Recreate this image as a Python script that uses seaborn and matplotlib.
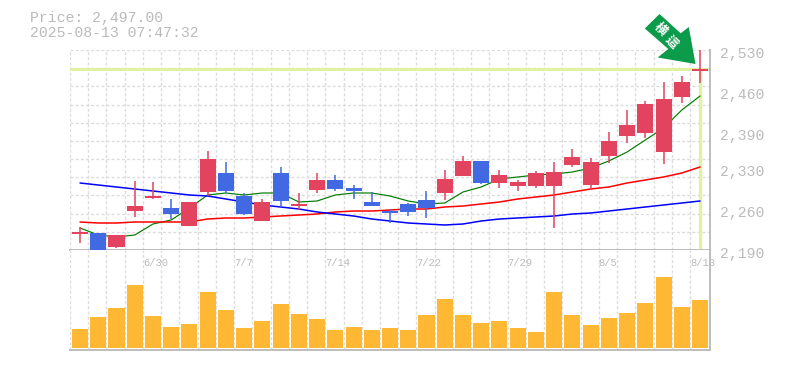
import numpy as np
import pandas as pd
import seaborn as sns
import matplotlib.pyplot as plt
from matplotlib.patches import Polygon

# Candle values
highs = [2229.1, 2218.9, 2215.5, 2307.3, 2305.6, 2276.7, 2271.6, 2358.3, 2339.6, 2286.9, 2276.7, 2331.1,
         2286.9, 2320.9, 2317.5, 2300.5, 2288.6, 2259.7, 2269.9, 2290.3, 2326.0, 2349.8, 2341.3, 2326.0,
         2309.0, 2324.3, 2339.6, 2361.7, 2346.4, 2390.6, 2428.0, 2443.3, 2475.6, 2485.8, 2530.0]
body_tops = [2220.6, 2218.9, 2215.5, 2264.8, 2281.8, 2261.4, 2271.6, 2344.7, 2320.9, 2281.8, 2271.6, 2320.9,
             2268.2, 2309.0, 2309.0, 2295.4, 2271.6, 2256.3, 2268.2, 2275.0, 2310.7, 2341.3, 2341.3, 2317.5,
             2305.6, 2320.9, 2322.6, 2348.1, 2339.6, 2375.3, 2402.5, 2438.2, 2446.7, 2475.6, 2497.7]
body_bottoms = [2217.2, 2188.3, 2195.1, 2256.3, 2278.4, 2251.2, 2230.8, 2288.6, 2290.3, 2251.2, 2239.3, 2273.3,
                2264.8, 2292.0, 2293.7, 2290.3, 2264.8, 2252.9, 2254.6, 2261.4, 2286.9, 2315.8, 2303.9, 2303.9,
                2298.8, 2298.8, 2298.8, 2334.5, 2300.5, 2349.8, 2383.8, 2388.9, 2356.6, 2450.1, 2494.3]
lows = [2201.9, 2188.3, 2193.4, 2246.1, 2276.7, 2242.7, 2230.8, 2281.8, 2286.9, 2249.5, 2239.3, 2263.1,
        2258.0, 2286.9, 2290.3, 2276.7, 2264.8, 2235.9, 2247.8, 2244.4, 2275.0, 2315.8, 2302.2, 2295.4,
        2290.3, 2295.4, 2227.4, 2331.1, 2292.0, 2337.9, 2371.9, 2380.4, 2336.2, 2439.9, 2473.9]
is_up = [1, 0, 1, 1, 1, 0, 1, 1, 0, 0, 1, 0, 1, 1, 0, 0, 0, 0, 0, 0, 1, 1, 0, 1, 1, 1, 1, 1, 1, 1, 1, 1, 1, 1, 1]

# Moving averages
ma_short = [2227.4, 2215.5, 2212.1, 2215.5, 2234.2, 2241.0, 2261.4, 2283.5, 2286.9, 2283.5, 2286.9, 2286.9,
            2271.6, 2273.3, 2283.5, 2286.9, 2286.9, 2281.8, 2273.3, 2268.2, 2269.9, 2288.6, 2297.1, 2310.7,
            2314.1, 2317.5, 2319.2, 2322.6, 2329.4, 2341.3, 2356.6, 2377.0, 2397.4, 2428.0, 2451.8]
ma_mid = [2237.6, 2235.9, 2235.9, 2237.6, 2237.6, 2237.6, 2237.6, 2242.7, 2244.4, 2244.4, 2246.1, 2247.8,
          2249.5, 2251.2, 2254.6, 2256.3, 2256.3, 2258.0, 2259.7, 2259.7, 2263.1, 2264.8, 2268.2, 2271.6,
          2276.7, 2280.1, 2283.5, 2288.6, 2293.7, 2297.1, 2303.9, 2309.0, 2314.1, 2320.9, 2331.1]
ma_long = [2303.9, 2300.5, 2297.1, 2293.7, 2290.3, 2286.9, 2283.5, 2281.8, 2276.7, 2271.6, 2266.5, 2263.1,
           2259.7, 2254.6, 2251.2, 2247.8, 2242.7, 2239.3, 2235.9, 2234.2, 2232.5, 2234.2, 2239.3, 2242.7,
           2244.4, 2246.1, 2247.8, 2251.2, 2252.9, 2256.3, 2259.7, 2263.1, 2266.5, 2269.9, 2273.3]

volumes = [19, 31, 40, 63, 32, 21, 24, 56, 38, 20, 27, 44, 34, 29, 18, 21, 18, 20, 18, 33, 49, 33, 25, 27, 20, 16,
           56, 33, 23, 30, 35, 45, 71, 41, 48]

price_labels = [2530, 2460, 2390, 2330, 2260, 2190]
date_labels = ['6/30', '7/7', '7/14', '7/22', '7/29', '8/5', '8/13']
date_slots = [4, 9, 14, 19, 24, 29, 34]
last_price = 2497

W, H = 785, 370
RED, BLUE = '#e2435f', '#4169e1'
GRID, EDGE, TEXT = '#dddddd', '#bdbdbd', '#bbbbbb'
LIME = '#e0f2a0'
MONO = 'Liberation Mono'
DASH = (0, (2.2, 1.5))

sns.set_theme(style='white')
plt.rcParams['font.family'] = [MONO, 'Noto Sans CJK JP', 'DejaVu Sans']

df = pd.DataFrame({'slot': np.arange(len(volumes)), 'volume': volumes, 'short': ma_short, 'mid': ma_mid, 'long': ma_long})

fig = plt.figure(figsize=(W / 100, H / 100), dpi=100)
ax = fig.add_axes([70 / W, 1 - 250 / H, 640 / W, 200 / H])
ax_v = fig.add_axes([70 / W, 1 - 350 / H, 640 / W, 100 / H])

# slot edges sit 18.235 px apart, first candle is centred 10 px in
x0, x1 = -0.55, -0.55 + 640 / 18.235
edges = -0.55 + np.arange(len(volumes))
for a in (ax, ax_v):
    a.set_xlim(x0, x1)
    a.set_xticks([])
    a.set_yticks([])
    for e in edges:
        a.axvline(e, color=GRID, lw=1, ls=DASH, zorder=0)
    for s in a.spines.values():
        s.set_visible(False)
    for side in ('bottom', 'right'):
        a.spines[side].set_visible(True)
        a.spines[side].set_color(EDGE)
        a.spines[side].set_linewidth(1.4)

ax.set_ylim(2190, 2530)
for v in np.linspace(2190, 2530, 12):
    ax.axhline(v, color=GRID, lw=1, ls=DASH, zorder=0)

# current price markers
ax.axhline(last_price, color=LIME, lw=2.2, zorder=1)
ax.plot([34, 34], [2190, last_price], color=LIME, lw=2.4, zorder=1, solid_capstyle='butt')

# moving averages
sns.lineplot(data=df, x='slot', y='short', ax=ax, color='#007a00', lw=0.85, zorder=2, legend=False)
sns.lineplot(data=df, x='slot', y='mid', ax=ax, color='#ff0000', lw=1.1, zorder=2, legend=False)
sns.lineplot(data=df, x='slot', y='long', ax=ax, color='#0000ff', lw=1.1, zorder=2, legend=False)
ax.set_xlabel('')
ax.set_ylabel('')
ax.set_xlim(x0, x1)
ax.set_ylim(2190, 2530)

# candles go over the averages
cols = [RED if u else BLUE for u in is_up]
ax.vlines(df['slot'], lows, highs, colors=cols, lw=1.1, zorder=5)
ax.bar(df['slot'], np.array(body_tops) - np.array(body_bottoms), bottom=body_bottoms, width=0.88,
       color=cols, linewidth=0, zorder=5)

# volume pane
sns.barplot(data=df, x='slot', y='volume', ax=ax_v, native_scale=True, color='#ffb833', width=0.88,
            saturation=1, linewidth=0, zorder=3)
ax_v.set_xlabel('')
ax_v.set_ylabel('')
ax_v.set_xlim(x0, x1)
ax_v.set_ylim(-2, 98)
ax_v.set_xticks([])
ax_v.set_yticks([])

for p in price_labels:
    ax.annotate(f'{p:,}', xy=(1, p), xycoords=('axes fraction', 'data'), xytext=(7.2, -2.8),
                textcoords='offset points', fontsize=10.6, color=TEXT, va='center', ha='left',
                annotation_clip=False)

for s, lab in zip(date_slots, date_labels):
    ax_v.annotate(lab, xy=(s - 0.55, 1), xycoords=('data', 'axes fraction'), xytext=(0, -9.2),
                  textcoords='offset points', fontsize=7.6, color=TEXT, va='center', ha='left',
                  annotation_clip=False)

fig.text(30 / W, 1 - 18 / H, f'Price: {last_price:,}.00', fontsize=10.7, color=TEXT, va='center')
fig.text(30 / W, 1 - 33 / H, '2025-08-13 07:47:32', fontsize=10.7, color=TEXT, va='center')

# green arrow badge
arrow = [(659.5, 14), (680.7, 33.3), (688.8, 27), (695.5, 64), (657.7, 57.5), (668.3, 49), (644.8, 28.5)]
fig.add_artist(Polygon([(x / W, 1 - y / H) for x, y in arrow], closed=True, transform=fig.transFigure,
                       facecolor='#0b9b4a', edgecolor='none', zorder=5))
fig.text(660 / W, 1 - 29.5 / H, '横', fontsize=9, color='white', rotation=-45, ha='center', va='center',
         weight='bold', zorder=6, family=['Noto Sans CJK JP', 'DejaVu Sans'])
fig.text(671 / W, 1 - 42 / H, '這', fontsize=9, color='white', rotation=-45, ha='center', va='center',
         weight='bold', zorder=6, family=['Noto Sans CJK JP', 'DejaVu Sans'])

fig.savefig('out.png', dpi=100)
